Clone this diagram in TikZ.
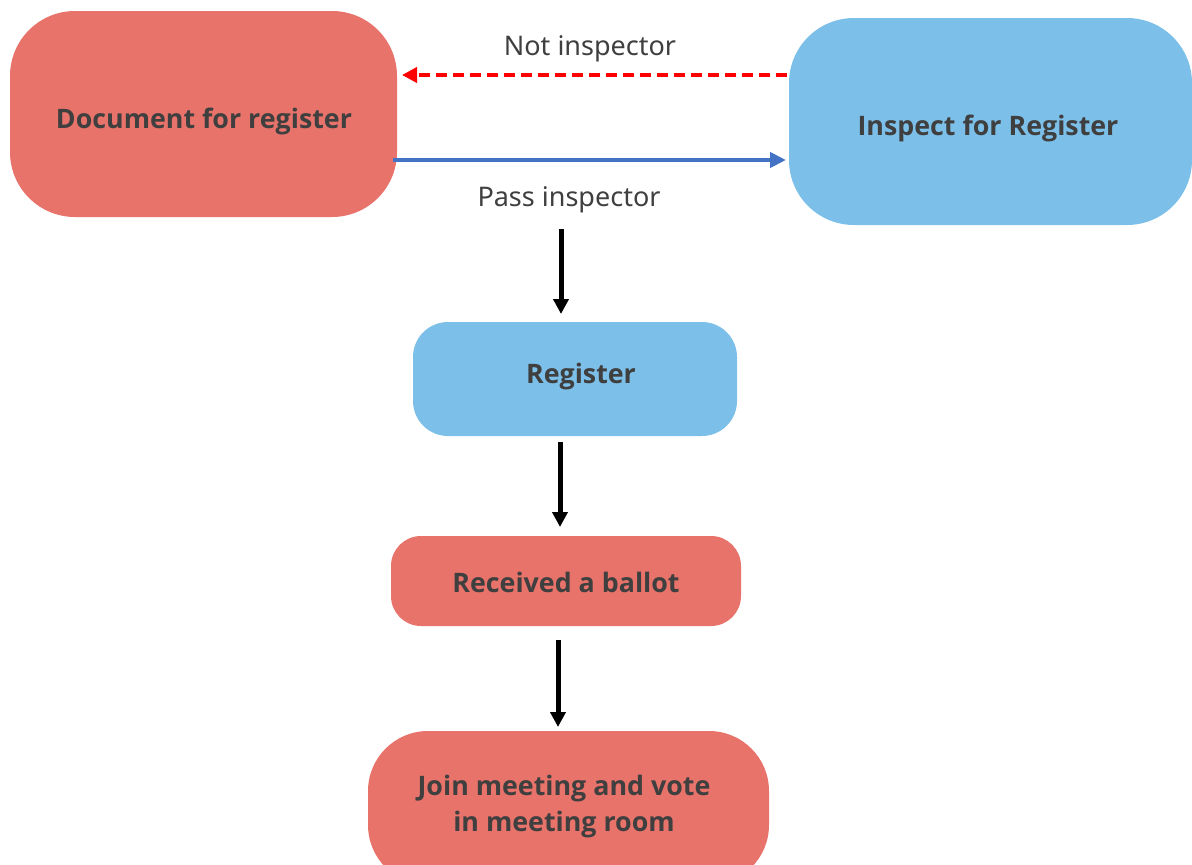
\documentclass[tikz,border=0pt]{standalone}
\usepackage{fontspec}
\setmainfont{Noto Sans}
\newfontfamily\boldfam{Open Sans}[UprightFont={* Bold}]
\usetikzlibrary{arrows.meta}
\definecolor{boxred}{HTML}{E8736B}
\definecolor{boxblue}{HTML}{7CC0E9}
\definecolor{txtgray}{HTML}{3F3F3F}
\definecolor{arrblue}{HTML}{4472C4}
\definecolor{arrred}{HTML}{FF0000}
\tikzset{
  box/.style={rounded corners=#1, inner sep=0pt},
  redbox/.style={box=#1, fill=boxred},
  bluebox/.style={box=#1, fill=boxblue},
  btxt/.style={text=txtgray, font=\boldfam\fontsize{26.8}{36}\selectfont, inner sep=0pt, anchor=base},
  lbl/.style={text=txtgray, font=\fontsize{27}{30}\selectfont, inner sep=0pt, anchor=base},
  blk/.style={draw=black, line width=5pt, -{Triangle[length=15pt,width=15pt]}},
}
\begin{document}
\begin{tikzpicture}[x=1pt,y=-1pt]
\useasboundingbox (0,0) rectangle (1192,865);
\clip (0,0) rectangle (1192,865);
\node[redbox=65pt, minimum width=387pt, minimum height=206pt] (doc) at (203.5,114) {};
\node[bluebox=65pt, minimum width=403pt, minimum height=207pt] (ins) at (990.5,121.5) {};
\node[bluebox=35pt, minimum width=324pt, minimum height=114pt] (reg) at (575,379) {};
\node[redbox=30pt, minimum width=350pt, minimum height=90pt] (rec) at (566,581) {};
\node[redbox=60pt, minimum width=401pt, minimum height=154pt] (join) at (568.5,808) {};
\node[btxt] (doct) at (204,128) {Document for register};
\node[btxt] (inst) at (988,135) {Inspect for Register};
\node[btxt] (regt) at (581,383) {Register};
\node[btxt] (rect) at (566,592) {Received a ballot};
\node[btxt] (joint1) at (564,795) {Join meeting and vote};
\node[btxt] (joint2) at (564,831) {in meeting room};
\node[lbl] (lnot) at (590,55) {Not inspector};
\node[lbl] (lpass) at (569,206) {Pass inspector};
% red dashed
\coordinate (r1) at (787,75);
\coordinate (r2) at (402,75);
\draw[draw=arrred, line width=4pt, dash pattern=on 11pt off 6pt, -{Triangle[length=15pt,width=15pt]}] (r1) -- (r2);
% blue
\coordinate (b1) at (393,160);
\coordinate (b2) at (786,160);
\draw[draw=arrblue, line width=4pt, -{Triangle[length=16pt,width=15pt]}] (b1) -- (b2);
% verticals
\coordinate (v1a) at (561,229); \coordinate (v1b) at (561,314);
\coordinate (v2a) at (560,442); \coordinate (v2b) at (560,527);
\coordinate (v3a) at (558,640); \coordinate (v3b) at (558,727);
\draw[blk] (v1a) -- (v1b);
\draw[blk] (v2a) -- (v2b);
\draw[blk] (v3a) -- (v3b);
\end{tikzpicture}
\end{document}
